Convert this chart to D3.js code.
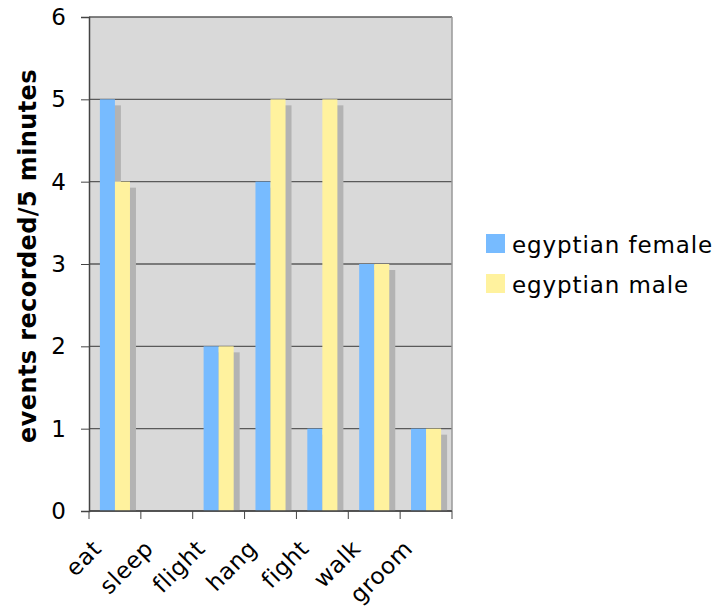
<!DOCTYPE html>
<html>
<head>
<meta charset="utf-8">
<script src="https://cdn.jsdelivr.net/npm/d3@7"></script>
<style>
  body { margin: 0; background: #fff; }
  text { font-family: "DejaVu Sans", Verdana, sans-serif; }
</style>
</head>
<body>
<svg id="chart" width="715" height="611"></svg>
<script>
// chart data
const categories = ["eat", "sleep", "flight", "hang", "fight", "walk", "groom"];
const femaleValues = [5, 0, 2, 4, 1, 3, 1];
const maleValues = [4, 0, 2, 5, 5, 3, 1];
const seriesNames = ["egyptian female", "egyptian male"];
const seriesColors = ["#77bbff", "#fff29e"];
const yTicks = [0, 1, 2, 3, 4, 5, 6];

const margin = { top: 17, right: 263, bottom: 100, left: 89 };
const width = 715 - margin.left - margin.right;
const height = 611 - margin.top - margin.bottom;

const svg = d3.select("#chart");
const g = svg.append("g")
    .attr("transform", "translate(" + margin.left + "," + margin.top + ")");

const x = d3.scaleBand()
    .domain(categories)
    .range([0, width])
    .paddingInner(0.42)
    .paddingOuter(0.21);

const xSub = d3.scaleBand()
    .domain(seriesNames)
    .range([0, x.bandwidth()]);

const y = d3.scaleLinear()
    .domain([0, 6])
    .range([height, 0]);

// plot background
g.append("rect")
    .attr("width", width)
    .attr("height", height)
    .attr("fill", "#d9d9d9");

// gridlines
g.selectAll(".grid")
    .data(yTicks)
    .enter()
    .append("line")
    .attr("x1", 0)
    .attr("x2", width)
    .attr("y1", function(d) { return y(d); })
    .attr("y2", function(d) { return y(d); })
    .attr("stroke", "#5a5a5a")
    .attr("stroke-width", 1.3);

// right border
g.append("line")
    .attr("x1", width).attr("x2", width)
    .attr("y1", 0).attr("y2", height)
    .attr("stroke", "#999")
    .attr("stroke-width", 1.5);

const rows = categories.map(function(c, i) {
    return { cat: c, vals: [femaleValues[i], maleValues[i]] };
});

const groups = g.selectAll(".grp")
    .data(rows)
    .enter()
    .append("g")
    .attr("transform", function(d) { return "translate(" + x(d.cat) + ",0)"; });

// shadows first
const shOff = 6;
groups.selectAll(".shadow")
    .data(function(d) { return d.vals.map(function(v, i) { return { v: v, s: seriesNames[i] }; }); })
    .enter()
    .append("rect")
    .attr("x", function(d) { return xSub(d.s) + shOff; })
    .attr("y", function(d) { return Math.min(y(d.v) + shOff, height); })
    .attr("width", xSub.bandwidth())
    .attr("height", function(d) { return Math.max(height - y(d.v) - shOff, 0); })
    .attr("fill", "#b3b3b3");

groups.selectAll(".bar")
    .data(function(d) { return d.vals.map(function(v, i) { return { v: v, s: seriesNames[i], c: seriesColors[i] }; }); })
    .enter()
    .append("rect")
    .attr("x", function(d) { return xSub(d.s); })
    .attr("y", function(d) { return y(d.v); })
    .attr("width", xSub.bandwidth())
    .attr("height", function(d) { return height - y(d.v); })
    .attr("fill", function(d) { return d.c; });

// y axis
const yAxis = g.append("g")
    .call(d3.axisLeft(y).tickValues(yTicks).tickFormat(d3.format("d")).tickSize(8).tickPadding(15));
yAxis.select(".domain").attr("stroke", "#444").attr("stroke-width", 1.5);
yAxis.selectAll("line").attr("stroke", "#444");
yAxis.selectAll("text")
    .style("font-size", "23px")
    .attr("fill", "#000");

// x axis with ticks at band edges
const edges = categories.map(function(c, i) { return i * width / categories.length; }).concat([width]);
const xAxisG = g.append("g").attr("transform", "translate(0," + height + ")");
xAxisG.append("line")
    .attr("x1", 0).attr("x2", width)
    .attr("stroke", "#444").attr("stroke-width", 1.5);
xAxisG.selectAll(".tk")
    .data(edges)
    .enter()
    .append("line")
    .attr("x1", function(d) { return d; })
    .attr("x2", function(d) { return d; })
    .attr("y1", 0).attr("y2", 8)
    .attr("stroke", "#444");
xAxisG.selectAll(".lbl")
    .data(categories)
    .enter()
    .append("text")
    .attr("text-anchor", "end")
    .attr("transform", function(d, i) {
        const cx = (i + 0.5) * width / categories.length;
        return "translate(" + (cx - 12) + ",39) rotate(-45)";
    })
    .style("font-size", "23px")
    .style("letter-spacing", "0.6px")
    .text(function(d) { return d; });

// y axis title
svg.append("text")
    .attr("transform", "translate(36,256) rotate(-90)")
    .attr("text-anchor", "middle")
    .style("font-size", "24px")
    .style("font-weight", "bold")
    .style("letter-spacing", "0.4px")
    .text("events recorded/5 minutes");

// legend
const legend = svg.append("g").attr("transform", "translate(486,234)");
seriesNames.forEach(function(name, i) {
    const row = legend.append("g").attr("transform", "translate(0," + (i * 40) + ")");
    row.append("rect")
        .attr("width", 19).attr("height", 19)
        .attr("fill", seriesColors[i]);
    row.append("text")
        .attr("x", 26)
        .attr("y", 19)
        .style("font-size", "23px")
        .style("letter-spacing", "0.9px")
        .text(name);
});
</script>
</body>
</html>
